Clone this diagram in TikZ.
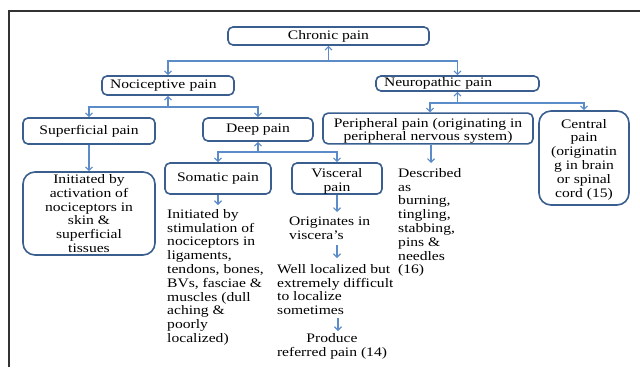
\documentclass[tikz,border=0pt]{standalone}
\usepackage{fontspec}
\setmainfont[FakeStretch=1.2]{Liberation Serif}
\usetikzlibrary{arrows.meta}
\definecolor{boxc}{HTML}{3A5F8E}
\definecolor{linec}{HTML}{5B8BC9}
\definecolor{framec}{HTML}{333333}
\newcommand{\topstrut}[1]{\rule{0pt}{#1}}
\begin{document}
\begin{tikzpicture}[x=1pt,y=-1pt,
  font=\fontsize{13}{13.8}\selectfont,
  box/.style={draw=boxc, line width=1.6pt, rounded corners=5pt, fill=white, inner sep=0pt, align=center},
  conn/.style={draw=linec, line width=1.1pt},
  tip/.style={-{Straight Barb[length=3.5pt,width=7pt]}},
  txt/.style={inner sep=0pt, align=left}]
\useasboundingbox (0,0) rectangle (640,367);
\fill[white] (0,0) rectangle (640,367);
\draw[line width=1.2pt, framec] (9,367) -- (9,11) -- (640,11);

\node[box, minimum width=201pt, minimum height=18pt] (chronic) at (328.5,36) {Chronic pain};
\node[box, minimum width=132pt, minimum height=19pt, text width=116pt, inner xsep=8pt, align=left] (nocic) at (168,85.5) {Nociceptive pain};
\node[box, minimum width=163pt, minimum height=15pt, text width=147pt, inner xsep=8pt, align=left] (neuro) at (457.5,83.5) {Neuropathic pain};
\node[box, minimum width=132pt, minimum height=26pt] (superf) at (89,131) {Superficial pain};
\node[box, minimum width=110pt, minimum height=23pt] (deep) at (258,129.5) {Deep pain};
\node[box, minimum width=210pt, minimum height=29pt] (periph) at (428,128.5) {\topstrut{14pt}Peripheral pain (originating in\\peripheral nervous system)};
\node[box, rounded corners=12pt, minimum width=90pt, minimum height=94pt] (central) at (584,158) {\topstrut{12pt}Central\\pain\\(originatin\\g in brain\\or spinal\\cord (15)};
\node[box, minimum width=106pt, minimum height=31pt] (somatic) at (218,178.5) {Somatic pain};
\node[box, minimum width=90pt, minimum height=31pt] (visceral) at (337,178.5) {\topstrut{14pt}Visceral\\pain};
\node[box, rounded corners=12pt, minimum width=132pt, minimum height=83pt] (init) at (89,213.5) {Initiated by\\activation of\\nociceptors in\\skin \&\\superficial\\tissues};

\node[txt, anchor=north west] (somtext) at (167,209) {Initiated by\\stimulation of\\nociceptors in\\ligaments,\\tendons, bones,\\BVs, fasciae \&\\muscles (dull\\aching \&\\poorly\\localized)};
\node[txt, anchor=north west] (vtext1) at (289,217) {Originates in\\viscera's};
\node[txt, anchor=north west] (vtext2) at (277,264) {Well localized but\\extremely difficult\\to localize\\sometimes};
\node[txt, anchor=north, align=center] (vtext3) at (332,333) {Produce\\referred pain (14)};
\node[txt, anchor=north west] (desc) at (398,168) {Described\\as\\burning,\\tingling,\\stabbing,\\pins \&\\needles\\(16)};

\coordinate (j1) at (328.5,61);
\draw[conn,tip] (j1) -- (chronic.south);
\draw[conn,tip] (j1) -| (nocic.north);
\draw[conn,tip] (j1) -| (neuro.north);
\coordinate (j2) at (168,107);
\draw[conn,tip] (j2) -- (nocic.south);
\draw[conn,tip] (j2) -| (superf.north);
\draw[conn,tip] (j2) -| (deep.north);
\coordinate (j3) at (457.5,103);
\draw[conn,tip] (j3) -- (neuro.south);
\draw[conn,tip] (j3) -| ([xshift=2pt]periph.north);
\draw[conn,tip] (j3) -| (central.north);
\coordinate (j4) at (258,152);
\draw[conn,tip] (j4) -- (deep.south);
\draw[conn,tip] (j4) -| (somatic.north);
\draw[conn,tip] (j4) -| (visceral.north);
\draw[conn,tip] (superf.south) -- (init.north);
\coordinate (a1) at (218,205);
\draw[conn,tip] (somatic.south) -- (a1);
\coordinate (a2) at (337,212);
\draw[conn,tip] (visceral.south) -- (a2);
\coordinate (a3) at (431,163);
\draw[conn,tip] (periph.south -| a3) -- (a3);
\coordinate (a4s) at (337,245);
\coordinate (a4) at (337,258);
\draw[conn,tip] (a4s) -- (a4);
\coordinate (a5s) at (338,318);
\coordinate (a5) at (338,331);
\draw[conn,tip] (a5s) -- (a5);
\end{tikzpicture}
\end{document}
